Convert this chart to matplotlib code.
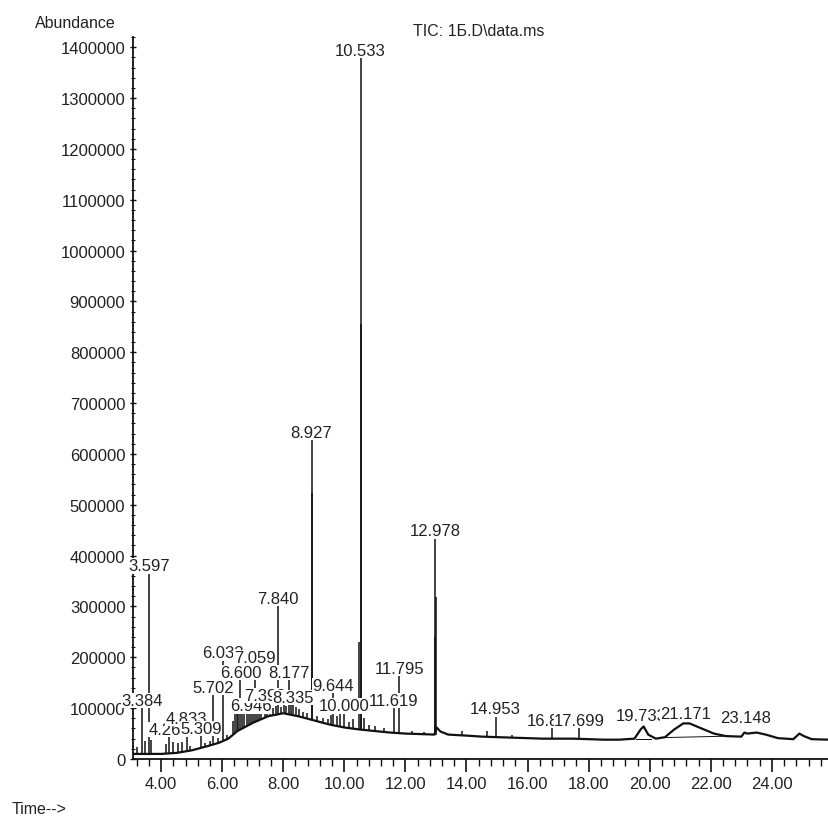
import matplotlib
matplotlib.use('Agg')
import matplotlib.pyplot as plt
from matplotlib.ticker import MultipleLocator, FixedLocator

plt.rcParams['font.family'] = ['Liberation Sans', 'DejaVu Sans']

# baseline of the TIC trace (time in min, abundance)
base_t = [3.08, 3.50, 4.00, 4.50, 5.00, 5.50, 5.90, 6.20, 6.50, 7.00, 7.50, 8.00,
          8.50, 9.00, 9.50, 10.00, 10.50, 11.00, 11.50, 12.00, 12.50, 12.95, 13.02,
          13.15, 13.40, 14.00, 14.50, 15.00, 15.50, 16.00, 16.50, 17.00, 17.50,
          18.00, 18.50, 19.00, 19.50, 19.70, 19.80, 19.95, 20.20, 20.50, 20.80,
          21.10, 21.30, 21.70, 22.10, 22.50, 23.00, 23.10, 23.20, 23.50, 23.80,
          24.20, 24.70, 24.90, 25.05, 25.30, 25.87]
base_y = [10000, 10000, 10000, 12000, 17000, 25000, 32000, 40000, 55000, 71000,
          84000, 90000, 84000, 76000, 68000, 62000, 58000, 55000, 52000, 50000,
          49000, 48000, 62000, 54000, 48000, 46000, 44000, 43000, 42000, 41000,
          40000, 40000, 40000, 39000, 38000, 38000, 40000, 58000, 64000, 48000,
          40000, 43000, 58000, 70000, 70000, 60000, 50000, 45000, 44000, 52000,
          50000, 52000, 48000, 41000, 39000, 50000, 45000, 39000, 38000]

# narrow peaks: retention time, foot, top (labelled ones run up to their label)
peak_rt = [3.22, 3.38, 3.46, 3.597, 3.66, 4.15, 4.264, 4.40, 4.55, 4.70, 4.833, 4.95,
           5.309, 5.45, 5.60, 5.702, 5.85, 6.033, 6.15,
           6.35, 6.42, 6.48, 6.52, 6.600, 6.66, 6.72, 6.80, 6.88, 6.946, 7.00, 7.059,
           7.13, 7.20, 7.28, 7.392, 7.48, 7.58, 7.68, 7.76, 7.840, 7.92, 8.02, 8.10,
           8.177, 8.26, 8.335, 8.42, 8.52, 8.65, 8.78, 8.927, 8.94, 9.10, 9.30, 9.45,
           9.55, 9.644, 9.75, 9.86, 10.000, 10.15, 10.30, 10.47, 10.533, 10.55, 10.65,
           10.80, 11.00, 11.30, 11.619, 11.795, 12.20, 12.60, 12.965, 12.978, 12.99,
           13.85, 14.67, 14.953, 15.50, 16.808, 17.699]
peak_foot = [10000, 10000, 10000, 10000, 10000, 11000, 11000, 12000, 13000, 14000,
             15000, 16000, 21000, 24000, 27000, 29000, 31000, 36000, 38000,
             50000, 52000, 54000, 55000, 57000, 59000, 61000, 63000, 65000, 67000,
             70000, 72000, 74000, 76000, 78000, 80000, 83000, 85000, 87000, 88000,
             89000, 90000, 90000, 89000, 88000, 87000, 86000, 85000, 83000, 81000,
             79000, 77000, 77000, 74000, 71000, 69000, 68000, 67000, 66000, 64000,
             62000, 61000, 60000, 59000, 58000, 58000, 57000, 56000, 55000, 53000,
             52000, 51000, 50000, 49000, 48000, 48000, 48000, 46000, 44000, 43000,
             42000, 40000, 40000]
peak_top = [24000, 106000, 36000, 371000, 38000, 30000, 49000, 33000, 32000, 34000,
            71000, 26000, 51000, 32000, 36000, 132000, 42000, 200000, 48000,
            75000, 98000, 100000, 96000, 161000, 99000, 92000, 97000, 90000, 96000,
            93000, 191000, 95000, 98000, 96000, 116000, 100000, 102000, 100000,
            104000, 307000, 103000, 106000, 104000, 161000, 108000, 112000, 102000,
            98000, 92000, 90000, 633000, 523000, 84000, 80000, 78000, 86000, 136000,
            84000, 90000, 96000, 72000, 78000, 230000, 1385000, 855000, 80000, 66000,
            64000, 60000, 106000, 169000, 56000, 54000, 240000, 440000, 318000,
            55000, 55000, 90000, 47000, 60000, 62000]

# peak labels: text, retention time, label baseline (abundance)
label_text = ['3.384', '3.597', '4.264', '4.833', '5.309', '5.702', '6.033', '6.600',
              '6.946', '7.059', '7.392', '7.840', '8.177', '8.335', '8.927', '9.644',
              '10.000', '10.533', '11.619', '11.795', '12.978', '14.953', '16.808',
              '17.699', '19.733', '21.171', '23.148']
label_rt = [3.384, 3.597, 4.264, 4.833, 5.309, 5.702, 6.033, 6.600, 6.946, 7.059,
            7.392, 7.840, 8.177, 8.335, 8.927, 9.644, 10.000, 10.533, 11.619, 11.795,
            12.978, 14.953, 16.808, 17.699, 19.733, 21.171, 23.148]
label_y = [106000, 371000, 49000, 71000, 51000, 132000, 200000, 161000, 96000,
           191000, 116000, 307000, 161000, 112000, 633000, 136000, 96000, 1385000,
           106000, 169000, 440000, 90000, 67000, 67000, 77000, 81000, 73000]

# integration baseline segments drawn under humps
seg_t = [[19.55, 20.05], [20.40, 22.60]]
seg_y = [[40000, 40000], [42000, 45000]]

x_major = [4, 6, 8, 10, 12, 14, 16, 18, 20, 22, 24]
y_major = [0, 100000, 200000, 300000, 400000, 500000, 600000, 700000, 800000,
           900000, 1000000, 1100000, 1200000, 1300000, 1400000]

W, H = 829, 820
fig = plt.figure(figsize=(W / 100, H / 100), dpi=100)
ax = fig.add_axes([133 / W, 1 - 760 / H, 1 - 133 / W, (760 - 38) / H])
ink = '#111111'

ax.plot(base_t, base_y, color=ink, lw=1.6, zorder=2, solid_joinstyle='round')
ax.vlines(peak_rt, peak_foot, peak_top, color=ink, lw=1.1, zorder=2)
for st, sy in zip(seg_t, seg_y):
    ax.plot(st, sy, color=ink, lw=0.7, zorder=2)

for i, (txt, rt, ly) in enumerate(zip(label_text, label_rt, label_y)):
    ax.text(rt, ly, txt, ha='center', va='baseline', fontsize=12, color='#222222',
            zorder=3 + i * 0.01,
            bbox=dict(facecolor='white', edgecolor='none', pad=0.3))

ax.set_xlim(3.08, 25.87)
ax.set_ylim(0, 1420000)

for s in ['top', 'right']:
    ax.spines[s].set_visible(False)
for s in ['left', 'bottom']:
    ax.spines[s].set_linewidth(1.3)
    ax.spines[s].set_color(ink)

ax.xaxis.set_major_locator(FixedLocator(x_major))
ax.set_xticklabels([f'{v:.2f}' for v in x_major])
ax.xaxis.set_minor_locator(MultipleLocator(0.4))
ax.yaxis.set_major_locator(FixedLocator(y_major))
ax.set_yticklabels([str(v) for v in y_major])
ax.yaxis.set_minor_locator(MultipleLocator(20000))

ax.tick_params(axis='x', which='major', direction='out', length=9, width=1.2,
               pad=3, labelsize=12, colors=ink)
ax.tick_params(axis='x', which='minor', direction='out', length=5, width=1.0,
               colors=ink)
ax.tick_params(axis='y', which='major', direction='inout', length=5, width=1.0,
               pad=3, labelsize=12, colors=ink)
ax.tick_params(axis='y', which='minor', direction='inout', length=3, width=0.8,
               colors=ink)
for lab in ax.get_xticklabels() + ax.get_yticklabels():
    lab.set_color('#222222')

fig.text(35 / W, 1 - 23 / H, 'Abundance', ha='left', va='center', fontsize=11.5,
         color='#222222')
fig.text(413 / W, 1 - 32 / H, 'TIC: 1Б.D\\data.ms', ha='left', va='center',
         fontsize=11.5, color='#222222')
fig.text(12 / W, 1 - 810 / H, 'Time-->', ha='left', va='center', fontsize=11.5,
         color='#222222')

fig.savefig('out.png', dpi=100, facecolor='white')
